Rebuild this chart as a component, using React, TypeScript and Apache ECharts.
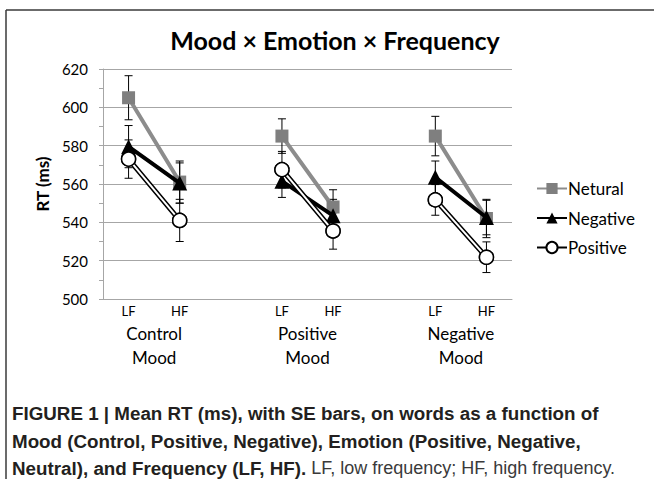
import React, { useEffect, useRef } from "react";
import * as echarts from "echarts";

const categories = ["LF", "HF", "", "LF", "HF", "", "LF", "HF"];
const groupLabels = ["Control\nMood", "Positive\nMood", "Negative\nMood"];
const yTicks = { min: 500, max: 620, interval: 20 };

const neturalValues = [605, 561, null, 585, 548, null, 585, 542];
const neturalSE = [11.5, 11, null, 9, 9, null, 10.3, 10];
const negativeValues = [579.5, 560.5, null, 561.5, 543.5, null, 563.5, 542.5];
const negativeSE = [11, 10.5, null, 8.5, 8.5, null, 8.5, 9];
const positiveValues = [573, 541, null, 567.5, 535.5, null, 551.7, 521.8];
const positiveSE = [10, 11, null, 9.5, 9.5, null, 8, 8];

const captionBold1 = "FIGURE 1 | Mean RT (ms), with SE bars, on words as a function of";
const captionBold2 = "Mood (Control, Positive, Negative), Emotion (Positive, Negative,";
const captionBold3 = "Neutral), and Frequency (LF, HF).";
const captionNormal3 = " LF, low frequency; HF, high frequency.";

const FONT = "Lato";

function errData(vals: (number | null)[], se: (number | null)[]) {
  const out: number[][] = [];
  vals.forEach((v, i) => {
    if (v != null && se[i] != null) out.push([i, v - (se[i] as number), v + (se[i] as number)]);
  });
  return out;
}

function errSeries(name: string, vals: (number | null)[], se: (number | null)[]) {
  return {
    type: "custom",
    name,
    z: 1,
    data: errData(vals, se),
    encode: { x: 0, y: [1, 2] },
    renderItem: (params: any, api: any) => {
      const x = api.value(0);
      const lo = api.coord([x, api.value(1)]);
      const hi = api.coord([x, api.value(2)]);
      const w = 4;
      const st = { stroke: "#000", lineWidth: 1 };
      return {
        type: "group",
        children: [
          { type: "line", shape: { x1: lo[0], y1: lo[1], x2: hi[0], y2: hi[1] }, style: st },
          { type: "line", shape: { x1: lo[0] - w, y1: lo[1], x2: lo[0] + w, y2: lo[1] }, style: st },
          { type: "line", shape: { x1: hi[0] - w, y1: hi[1], x2: hi[0] + w, y2: hi[1] }, style: st },
        ],
      };
    },
  };
}

export default function App() {
  const ref = useRef<HTMLDivElement>(null);
  useEffect(() => {
    document.body.style.margin = "0";
    const chart = echarts.init(ref.current as HTMLDivElement, null, { renderer: "svg" });
    const option: any = {
      animation: false,
      backgroundColor: "#fff",
      title: {
        text: "Mood × Emotion × Frequency",
        left: 330,
        textAlign: "center",
        top: 22,
        textStyle: { fontFamily: FONT, fontWeight: "bold", fontSize: 25, color: "#000" },
      },
      legend: {
        orient: "vertical",
        left: 531,
        top: 175,
        itemWidth: 30,
        itemHeight: 14,
        itemGap: 12.5,
        textStyle: { fontFamily: FONT, fontSize: 17, color: "#000", padding: [0, 0, 0, -4] },
        data: ["Netural", "Negative", "Positive"],
      },
      grid: { left: 103, right: 142, top: 69, bottom: 180 },
      xAxis: [
        {
          type: "category",
          data: categories,
          boundaryGap: true,
          axisLine: { lineStyle: { color: "#a6a6a6", width: 1 } },
          axisTick: { show: false },
          axisLabel: { fontFamily: FONT, fontSize: 13, color: "#000", margin: 5, interval: 0 },
        },
        {
          type: "value",
          min: 0,
          max: categories.length,
          interval: 1,
          position: "bottom",
          axisLine: { show: false },
          axisTick: { show: false },
          splitLine: { show: false },
          axisLabel: {
            fontFamily: FONT,
            fontSize: 17,
            lineHeight: 24,
            color: "#000",
            margin: 22,
            formatter: (v: number) => {
              const g = (v - 1) / 3;
              return Number.isInteger(g) && groupLabels[g] ? groupLabels[g] : "";
            },
          },
        },
      ],
      yAxis: {
        type: "value",
        min: yTicks.min,
        max: yTicks.max,
        interval: yTicks.interval,
        name: "RT (ms)",
        nameLocation: "middle",
        nameGap: 52,
        nameTextStyle: { fontFamily: FONT, fontWeight: "bold", fontSize: 17, color: "#000" },
        axisLine: { show: true, lineStyle: { color: "#a6a6a6" } },
        axisTick: { show: true, length: 4, lineStyle: { color: "#a6a6a6" } },
        minorTick: { show: true, splitNumber: 2, length: 4, lineStyle: { color: "#a6a6a6" } },
        splitLine: { lineStyle: { color: "#a6a6a6", width: 1 } },
        axisLabel: { fontFamily: FONT, fontSize: 15, color: "#000", margin: 15 },
      },
      graphic: [
        { type: "line", shape: { x1: 6, y1: 10, x2: 654, y2: 10 }, style: { stroke: "#3a3a3a", lineWidth: 1.5 } },
        { type: "line", shape: { x1: 6, y1: 10, x2: 6, y2: 479 }, style: { stroke: "#3a3a3a", lineWidth: 1.5 } },
        {
          type: "text",
          x: 12,
          y: 413,
          style: { text: captionBold1, font: "bold 18.8px 'Liberation Sans'", fill: "#231f20", verticalAlign: "middle" },
        },
        {
          type: "text",
          x: 12,
          y: 441,
          style: { text: captionBold2, font: "bold 18.8px 'Liberation Sans'", fill: "#231f20", verticalAlign: "middle" },
        },
        {
          type: "text",
          x: 12,
          y: 468,
          style: {
            text: "{b|" + captionBold3 + "}{n|" + captionNormal3 + "}",
            verticalAlign: "middle",
            rich: {
              b: { fontFamily: "Liberation Sans", fontWeight: "bold", fontSize: 18.8, fill: "#231f20" },
              n: { fontFamily: "Liberation Sans", fontWeight: "normal", fontSize: 18, fill: "#3a3a3a" },
            },
          },
        },
      ],
      series: [
        errSeries("err-netural", neturalValues, neturalSE),
        errSeries("err-negative", negativeValues, negativeSE),
        errSeries("err-positive", positiveValues, positiveSE),
        {
          type: "line",
          name: "Netural",
          z: 3,
          data: neturalValues,
          connectNulls: false,
          symbol: "rect",
          symbolSize: 13,
          lineStyle: { color: "#8c8c8c", width: 4 },
          itemStyle: { color: "#7f7f7f" },
        },
        {
          type: "line",
          name: "Negative",
          z: 4,
          data: negativeValues,
          connectNulls: false,
          symbol: "triangle",
          symbolSize: 15,
          lineStyle: { color: "#000", width: 4 },
          itemStyle: { color: "#000" },
        },
        {
          type: "line",
          name: "Positive",
          z: 5,
          data: positiveValues,
          connectNulls: false,
          symbol: "circle",
          symbolSize: 14,
          lineStyle: { color: "#000", width: 5 },
          itemStyle: { color: "#fff", borderColor: "#000", borderWidth: 1.5 },
        },
        {
          type: "line",
          name: "Positive-inner",
          z: 6,
          data: positiveValues,
          connectNulls: false,
          symbol: "none",
          lineStyle: { color: "#fff", width: 2 },
          silent: true,
        },
        {
          type: "line",
          name: "Positive-marker",
          z: 7,
          data: positiveValues,
          connectNulls: false,
          symbol: "circle",
          symbolSize: 14,
          showSymbol: true,
          lineStyle: { width: 0, opacity: 0 },
          itemStyle: { color: "#fff", borderColor: "#000", borderWidth: 1.5 },
          silent: true,
        },
      ],
    };
    chart.setOption(option);
    return () => chart.dispose();
  }, []);
  return (
    <div
      ref={ref}
      style={{ position: "absolute", left: 0, top: 0, width: 654, height: 479, background: "#fff" }}
    />
  );
}
